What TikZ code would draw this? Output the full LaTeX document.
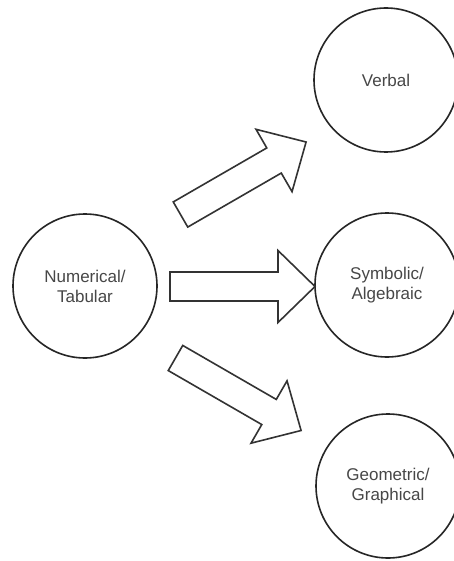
\documentclass[tikz,border=0pt]{standalone}
\usepackage{fontspec}
\setmainfont{Liberation Sans}
\begin{document}
\begin{tikzpicture}[x=1pt,y=-1pt,
  rep/.style={circle,draw=black!85,line width=1.6pt,minimum size=144pt,inner sep=0pt,
    align=center,text=black!72,font=\fontsize{17}{20}\selectfont},
  blockarrow/.style={draw=black!80,line width=1.6pt,line join=miter,fill=white}]
\useasboundingbox (0,0) rectangle (454,561);
\fill[white] (0,0) rectangle (454,561);

\node[rep] (num) at (85,286) {Numerical/\\Tabular};
\node[rep] (verb) at (386,80) {Verbal};
\node[rep] (sym) at (387,285) {Symbolic/\\Algebraic};
\node[rep] (geo) at (388,486) {Geometric/\\Graphical};

% one hollow block arrow, tail centre at the local origin, pointing along +x
\tikzset{hollowarrow/.pic={
  \draw[blockarrow] (0,-14.5) -- (108,-14.5) -- (108,-36) -- (145,0)
    -- (108,36) -- (108,14.5) -- (0,14.5) -- cycle;}}

\pic[shift={(180.5,214.5)},rotate=30] {hollowarrow};
\pic[shift={(170,286.5)}] {hollowarrow};
\pic[shift={(175.5,358)},rotate=-30] {hollowarrow};
\end{tikzpicture}
\end{document}
